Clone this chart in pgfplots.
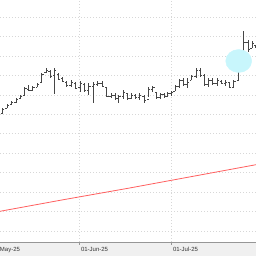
\documentclass[border=0pt]{standalone}
\usepackage{fontspec}
\setmainfont{Liberation Sans}
\usepackage{pgfplots}
\usepackage{pgfplotstable}
\pgfplotsset{compat=1.18}
\definecolor{gridc}{RGB}{215,215,215}
\definecolor{stripc}{RGB}{240,240,240}
\definecolor{axisc}{RGB}{150,150,150}
\definecolor{barc}{RGB}{70,70,70}
\definecolor{mac}{RGB}{255,95,95}
\definecolor{hl}{RGB}{200,246,252}

\pgfplotstableread{
x o h l c
2.7 129 134 128 133
7.3 134 138 134 137
11.7 138 141 138 140
16 140 144 139 143
20.7 144 147 144 146
24.7 147 155 147 154
28.7 153 157 151 152
32.7 152 156 151 155
37.3 155 159 155 158
41.7 160 169 160 168
46 170 174 169 172
50 171 172 164 166
54.3 167 174 148 172
58.3 168 169 162 163
62.3 164 165 160 161
66.5 160 161 155 157
71 157 162 155 160
75.5 159 160 153 154
80 155 161 150 159
84.3 158 159 150 152
88.7 152 159 147 156
93.3 156 160 139 158
97.7 158 161 156 159
102 159 161 155 156
106.7 155 155 145 146
111 146 149 144 147
115 147 149 142 144
118.7 144 147 139 146
123.3 146 152 143 150
127.7 149 149 142 144
131.5 144 149 143 147
135.5 147 148 143 145
139.5 145 149 142 147
144 146 147 139 142
148.5 143 155 145 153
152.7 153 156 150 155
156.7 150 150 143 145
160.5 145 149 143 148
164 148 149 144 146
167.7 146 150 145 149
171.5 149 151 146 150
175 151 157 151 156
179 156 163 154 162
183 162 164 156 158
187 158 164 154 160
191.3 162 167 162 166
196 166 174 164 172
200.3 172 174 165 167
204.7 167 168 156 158
208.7 158 164 155 162
212.7 162 164 157 159
217 159 164 156 162
221.3 161 162 158 159
225.3 159 162 156 160
229.3 160 160 154 155
233.7 155 162 155 161
238.7 162 175 162 174
243.7 185 211 180 200
248 200 202 190 193
252 194 201 194 199
255.5 197 197 194 195
}\ohlc

\begin{document}
\begin{tikzpicture}
\useasboundingbox (0pt,-14pt) rectangle (256pt,242pt);
\clip (0pt,-14pt) rectangle (256pt,242pt);
\fill[stripc] (0pt,-14pt) rectangle (256pt,0pt);
\begin{axis}[
  at={(-12pt,0pt)}, anchor=south west,
  scale only axis, width=268pt, height=242pt,
  xmin=-12, xmax=256, ymin=0, ymax=242,
  axis x line*=bottom, axis y line*=left,
  x axis line style={draw=axisc, line width=0.8pt},
  y axis line style={draw=none},
  xtick={-10.7,79,171},
  xticklabels={01-May-25,01-Jun-25,01-Jul-25},
  xtick style={draw=axisc, line width=0.6pt},
  tick align=outside, major tick length=3pt,
  ytick={11,30.45,49.9,69.35,88.8,108.25,127.7,147.15,166.6,186.05,205.5,224.95},
  yticklabels={}, ytick style={draw=none},
  xmajorgrids, ymajorgrids,
  major grid style={draw=gridc, line width=0.6pt, dash pattern=on 1pt off 2pt},
  xticklabel style={anchor=base west, inner sep=0pt, xshift=1.8pt, yshift=-6.5pt, font=\fontsize{6}{7}\selectfont, text=black!80},
  clip=false,
]
\addplot[mac, line width=0.8pt] coordinates {(-12,28.5) (0,30.7) (64,42.4) (128,53.7) (192,65.5) (256,77.3)};
\addplot[draw=none, mark=none, forget plot,
  error bars/.cd, y dir=both, y explicit, error mark=none,
  error bar style={draw=barc, line width=0.7pt}]
  table[x=x, y expr=(\thisrow{h}+\thisrow{l})/2,
        y error plus expr=(\thisrow{h}-\thisrow{l})/2,
        y error minus expr=(\thisrow{h}-\thisrow{l})/2] {\ohlc};
\addplot[only marks, color=barc, mark=-, mark size=0.9pt, mark options={xshift=-0.9pt, line width=0.7pt}] table[x=x, y=o] {\ohlc};
\addplot[only marks, color=barc, mark=-, mark size=0.9pt, mark options={xshift=0.9pt, line width=0.7pt}] table[x=x, y=c] {\ohlc};
\addplot[only marks, color=hl, mark=*, mark size=11.5pt, mark options={draw=hl, fill=hl, xscale=1.13}] coordinates {(238.7,181)};
\end{axis}
\end{tikzpicture}
\end{document}
